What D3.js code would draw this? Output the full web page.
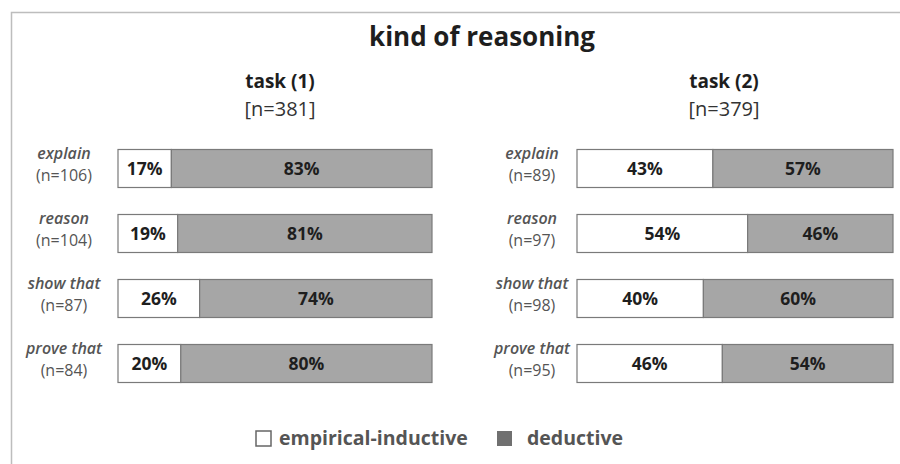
<!DOCTYPE html>
<html>
<head>
<meta charset="utf-8">
<script src="https://cdn.jsdelivr.net/npm/d3@7"></script>
<style>
  body { margin: 0; background: #fff; }
  text { font-family: "Open Sans", sans-serif; }
</style>
</head>
<body>
<div id="wrapper"></div>
<script>
// data
const verbs = ["explain", "reason", "show that", "prove that"]
const task1N = [106, 104, 87, 84]
const task2N = [89, 97, 98, 95]
const task1Empirical = [17, 19, 26, 20]
const task1Deductive = [83, 81, 74, 80]
const task2Empirical = [43, 54, 40, 46]
const task2Deductive = [57, 46, 60, 54]
const taskTitles = ["task (1)", "task (2)"]
const taskTotals = ["[n=381]", "[n=379]"]
const legendLabels = ["empirical-inductive", "deductive"]

const width = 900
const height = 464

const wrapper = d3.select("#wrapper")
    .append("svg")
    .attr("width", width)
    .attr("height", height)

// frame (right and bottom run off the picture)
wrapper.append("path")
    .attr("d", `M11.5,${height + 2} V12.5 H${width + 2}`)
    .attr("fill", "none")
    .attr("stroke", "#bdbdbd")
    .attr("stroke-width", 1.5)

wrapper.append("text")
    .attr("x", 482)
    .attr("y", 46)
    .attr("text-anchor", "middle")
    .attr("font-size", 26)
    .attr("font-weight", 700)
    .attr("fill", "#1e1e1e")
    .text("kind of reasoning")

const yScale = d3.scaleBand()
    .domain(verbs)
    .range([136, 396])
    .paddingInner(27 / 65)
    .paddingOuter(13.5 / 65)

const panels = [
    { x0: 118, x1: 432, labelX: 64, titleX: 280, n: task1N, emp: task1Empirical, ded: task1Deductive },
    { x0: 577, x1: 893, labelX: 532, titleX: 724, n: task2N, emp: task2Empirical, ded: task2Deductive },
]

panels.forEach((p, pi) => {
    const xScale = d3.scaleLinear()
        .domain([0, 100])
        .range([p.x0, p.x1])

    wrapper.append("text")
        .attr("x", p.titleX)
        .attr("y", 88)
        .attr("text-anchor", "middle")
        .attr("font-size", 19)
        .attr("font-weight", 700)
        .attr("fill", "#1e1e1e")
        .text(taskTitles[pi])

    wrapper.append("text")
        .attr("x", p.titleX)
        .attr("y", 116)
        .attr("text-anchor", "middle")
        .attr("font-size", 20)
        .attr("fill", "#333")
        .text(taskTotals[pi])

    const rows = verbs.map((v, i) => ({ verb: v, n: p.n[i], emp: p.emp[i], ded: p.ded[i] }))

    const g = wrapper.append("g")
    const row = g.selectAll("g")
        .data(rows)
        .enter().append("g")

    // empirical-inductive segment
    row.append("rect")
        .attr("x", xScale(0))
        .attr("y", d => yScale(d.verb))
        .attr("width", d => xScale(d.emp) - xScale(0))
        .attr("height", yScale.bandwidth())
        .attr("fill", "#ffffff")
        .attr("stroke", "#7a7a7a")
        .attr("stroke-width", 1.2)

    // deductive segment
    row.append("rect")
        .attr("x", d => xScale(d.emp))
        .attr("y", d => yScale(d.verb))
        .attr("width", d => xScale(d.emp + d.ded) - xScale(d.emp))
        .attr("height", yScale.bandwidth())
        .attr("fill", "#a6a6a6")
        .attr("stroke", "#7a7a7a")
        .attr("stroke-width", 1.2)

    row.append("text")
        .attr("x", d => (xScale(0) + xScale(d.emp)) / 2)
        .attr("y", d => yScale(d.verb) + yScale.bandwidth() / 2)
        .attr("dy", "0.36em")
        .attr("text-anchor", "middle")
        .attr("font-size", 17.5)
        .attr("font-weight", 700)
        .attr("fill", "#1e1e1e")
        .text(d => d.emp + "%")

    row.append("text")
        .attr("x", d => (xScale(d.emp) + xScale(d.emp + d.ded)) / 2)
        .attr("y", d => yScale(d.verb) + yScale.bandwidth() / 2)
        .attr("dy", "0.36em")
        .attr("text-anchor", "middle")
        .attr("font-size", 17.5)
        .attr("font-weight", 700)
        .attr("fill", "#1e1e1e")
        .text(d => d.ded + "%")

    // category labels
    row.append("text")
        .attr("x", p.labelX)
        .attr("y", d => yScale(d.verb) + 9)
        .attr("text-anchor", "middle")
        .attr("font-size", 16)
        .attr("font-style", "italic")
        .attr("font-weight", 600)
        .attr("fill", "#555")
        .text(d => d.verb)

    row.append("text")
        .attr("x", p.labelX)
        .attr("y", d => yScale(d.verb) + 31)
        .attr("text-anchor", "middle")
        .attr("font-size", 16)
        .attr("fill", "#555")
        .text(d => `(n=${d.n})`)
})

// legend
const legend = wrapper.append("g")
legend.append("rect")
    .attr("x", 256).attr("y", 431)
    .attr("width", 15).attr("height", 15)
    .attr("fill", "#fff")
    .attr("stroke", "#666")
    .attr("stroke-width", 1.5)
legend.append("text")
    .attr("x", 279).attr("y", 445)
    .attr("font-size", 19.5)
    .attr("font-weight", 700)
    .attr("fill", "#555")
    .text(legendLabels[0])
legend.append("rect")
    .attr("x", 497).attr("y", 431)
    .attr("width", 15).attr("height", 15)
    .attr("fill", "#707070")
legend.append("text")
    .attr("x", 527).attr("y", 445)
    .attr("font-size", 19.5)
    .attr("font-weight", 700)
    .attr("fill", "#555")
    .text(legendLabels[1])
</script>
</body>
</html>
